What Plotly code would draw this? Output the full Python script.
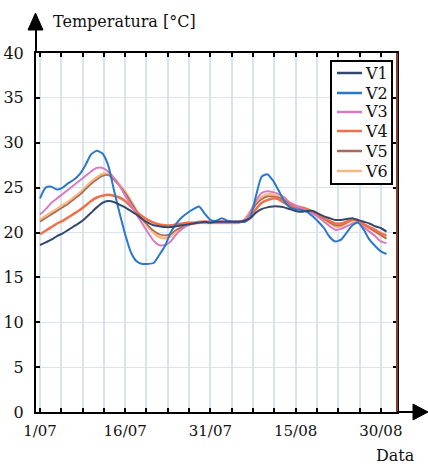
import plotly.graph_objects as go

# days since 1/07
days = list(range(62))

v1 = [18.6, 18.9, 19.2, 19.6, 19.9, 20.3, 20.7, 21.1, 21.6, 22.2, 22.8, 23.3, 23.5, 23.4, 23.1, 22.8,
      22.4, 22.0, 21.5, 21.1, 20.8, 20.7, 20.6, 20.6, 20.7, 20.8, 20.9, 21.0, 21.1, 21.2, 21.1, 21.2,
      21.2, 21.2, 21.2, 21.2, 21.3, 21.6, 22.2, 22.6, 22.8, 22.9, 22.9, 22.8, 22.6, 22.4, 22.3, 22.4,
      22.4, 22.1, 21.8, 21.6, 21.4, 21.4, 21.5, 21.6, 21.4, 21.2, 21.0, 20.7, 20.5, 20.1]
v2 = [23.8, 25.0, 25.1, 24.8, 25.0, 25.5, 25.9, 26.5, 27.5, 28.7, 29.1, 28.8, 27.5, 24.8, 22.2, 19.8,
      17.8, 16.8, 16.5, 16.5, 16.6, 17.5, 18.5, 20.0, 21.0, 21.7, 22.2, 22.6, 22.9, 22.1, 21.4, 21.3,
      21.6, 21.3, 21.2, 21.2, 21.2, 21.7, 24.0, 26.2, 26.5, 25.8, 24.7, 23.5, 22.8, 22.6, 22.5, 22.3,
      21.8, 21.2, 20.5, 19.5, 19.0, 19.2, 20.0, 20.8, 21.1, 20.3, 19.2, 18.5, 17.9, 17.6]
v3 = [22.0, 22.6, 23.3, 23.8, 24.3, 24.8, 25.3, 25.8, 26.3, 26.8, 27.2, 27.2, 26.8, 26.1, 25.2, 24.1,
      23.1, 22.0, 21.0, 20.0, 19.1, 18.6, 18.6, 19.0, 19.8, 20.4, 20.8, 21.0, 21.1, 21.2, 21.2, 21.2,
      21.2, 21.2, 21.2, 21.2, 21.4, 22.2, 23.5, 24.4, 24.6, 24.5, 24.3, 23.9, 23.3, 23.0, 22.7, 22.4,
      22.1, 21.7, 21.2, 20.7, 20.3, 20.4, 20.7, 21.0, 21.1, 20.6, 20.1, 19.6, 19.0, 18.8]
v4 = [19.8, 20.2, 20.6, 21.0, 21.3, 21.7, 22.1, 22.5, 23.0, 23.5, 23.9, 24.1, 24.2, 24.1, 23.9, 23.5,
      22.9, 22.3, 21.8, 21.4, 21.1, 20.9, 20.8, 20.8, 20.9, 21.0, 21.1, 21.1, 21.2, 21.2, 21.2, 21.2,
      21.2, 21.2, 21.2, 21.2, 21.2, 21.6, 22.6, 23.3, 23.6, 23.8, 23.7, 23.3, 23.0, 22.8, 22.7, 22.6,
      22.3, 22.0, 21.6, 21.3, 21.0, 21.0, 21.2, 21.4, 21.3, 20.9, 20.6, 20.3, 19.9, 19.7]
v5 = [21.2, 21.6, 22.0, 22.4, 22.8, 23.2, 23.7, 24.2, 24.8, 25.4, 25.9, 26.3, 26.4, 25.9, 25.2, 24.4,
      23.4, 22.4, 21.5, 20.8, 20.2, 19.8, 19.7, 19.8, 20.3, 20.6, 20.9, 21.0, 21.1, 21.1, 21.1, 21.1,
      21.1, 21.1, 21.1, 21.1, 21.3, 22.1, 23.1, 23.7, 24.0, 24.0, 23.9, 23.6, 23.2, 22.9, 22.8, 22.6,
      22.3, 21.9, 21.5, 21.1, 20.8, 20.8, 21.1, 21.4, 21.3, 20.9, 20.5, 20.1, 19.7, 19.3]
v6 = [21.4, 21.8, 22.2, 22.6, 23.0, 23.4, 23.9, 24.4, 25.0, 25.6, 26.1, 26.5, 26.5, 26.0, 25.3, 24.5,
      23.5, 22.4, 21.5, 20.7, 20.0, 19.5, 19.4, 19.6, 20.2, 20.6, 20.9, 21.0, 21.1, 21.1, 21.1, 21.1,
      21.1, 21.1, 21.1, 21.1, 21.4, 22.3, 23.3, 23.9, 24.2, 24.2, 24.0, 23.7, 23.3, 23.0, 22.8, 22.6,
      22.3, 21.9, 21.5, 21.1, 20.7, 20.7, 21.1, 21.4, 21.3, 20.9, 20.5, 20.1, 19.7, 19.4]

names = ["V1", "V2", "V3", "V4", "V5", "V6"]
series = [v1, v2, v3, v4, v5, v6]
colors = ["#34486e", "#2a78c8", "#d87ac0", "#f0704a", "#a86a5a", "#f8b880"]
widths = [2, 2, 2, 2.5, 1.6, 3]

tick_vals = [0, 15, 30, 45, 60]
tick_text = ["1/07", "16/07", "31/07", "15/08", "30/08"]
y_ticks = [0, 5, 10, 15, 20, 25, 30, 35, 40]

FONT = "DejaVu Serif"

fig = go.Figure()
draw_order = [5, 4, 3, 2, 1, 0]
for i in draw_order:
    fig.add_trace(go.Scatter(
        x=days, y=series[i], name=names[i], mode="lines", showlegend=False,
        line=dict(color=colors[i], width=widths[i], shape="spline", smoothing=0.6),
    ))

W, H = 428, 464
L, R, T, B = 36, 31, 53, 52
pw, ph = W - L - R, H - T - B


def px(x):
    return (x - L) / pw


def py(y):
    return (H - B - y) / ph


grid = "#d8e5ee"
fig.update_layout(
    width=W, height=H,
    margin=dict(l=L, r=R, t=T, b=B, autoexpand=False),
    paper_bgcolor="white", plot_bgcolor="white",
    font=dict(family=FONT, color="#111", size=16),
    showlegend=False,
    xaxis=dict(range=[-0.70, 62.85], tickmode="array", tickvals=tick_vals, ticktext=tick_text,
               automargin=False,
               showgrid=True, gridcolor=grid, gridwidth=1.5, zeroline=False,
               showline=True, linecolor="black", linewidth=2, mirror="ticks",
               ticks="inside", ticklen=4, tickcolor="black", tickwidth=1.5,
               tickfont=dict(size=15, family=FONT), ticklabelstandoff=4,
               minor=dict(tickmode="linear", tick0=0, dtick=3.75, showgrid=True,
                          gridcolor=grid, gridwidth=1.5, ticks="inside", ticklen=4,
                          tickcolor="black", tickwidth=1.5)),
    yaxis=dict(range=[0, 40], tickmode="array", tickvals=y_ticks, automargin=False,
               showgrid=True, gridcolor=grid, gridwidth=1, zeroline=False,
               showline=True, linecolor="black", linewidth=2, mirror="ticks",
               ticks="inside", ticklen=4, tickcolor="black", tickwidth=1.5,
               tickfont=dict(size=16, family=FONT), ticklabelstandoff=7),
)

shapes = []
shapes.append(dict(type="line", xref="paper", yref="paper", x0=1, x1=1, y0=0, y1=1,
                   line=dict(color="#8a3c2c", width=2)))
shapes.append(dict(type="line", xref="paper", yref="paper", x0=0, x1=0, y0=1, y1=py(28),
                   line=dict(color="black", width=2)))
shapes.append(dict(type="path", xref="paper", yref="paper",
                   path=f"M {px(35.5)},{py(13)} L {px(28)},{py(30)} L {px(43)},{py(30)} Z",
                   fillcolor="black", line=dict(color="black", width=1)))
shapes.append(dict(type="line", xref="paper", yref="paper", x0=1, x1=px(415), y0=0, y1=0,
                   line=dict(color="black", width=2)))
shapes.append(dict(type="path", xref="paper", yref="paper",
                   path=f"M {px(428)},{py(412)} L {px(413)},{py(404)} L {px(413)},{py(420)} Z",
                   fillcolor="black", line=dict(color="black", width=1)))
shapes.append(dict(type="rect", xref="paper", yref="paper", x0=px(331), x1=px(392),
                   y0=py(184), y1=py(61), fillcolor="white", line=dict(color="black", width=2),
                   layer="above"))
legend_y = [73, 93, 112, 131, 151, 171]
for i in range(6):
    shapes.append(dict(type="line", xref="paper", yref="paper", x0=px(337), x1=px(362),
                       y0=py(legend_y[i]), y1=py(legend_y[i]),
                       line=dict(color=colors[i], width=2.5), layer="above"))
    fig.add_annotation(text=names[i], xref="paper", yref="paper", x=px(363), y=py(legend_y[i]),
                       xanchor="left", yanchor="middle", showarrow=False,
                       font=dict(size=16, family=FONT, color="#111"))
fig.update_layout(shapes=shapes)

fig.add_annotation(text="Temperatura [°C]", xref="paper", yref="paper", x=px(51), y=py(21),
                   xanchor="left", yanchor="middle", showarrow=False, font=dict(size=16, family=FONT))
fig.add_annotation(text="Data", xref="paper", yref="paper", x=px(395), y=py(455),
                   xanchor="center", yanchor="middle", showarrow=False, font=dict(size=16, family=FONT))

fig.write_html("out.html")
